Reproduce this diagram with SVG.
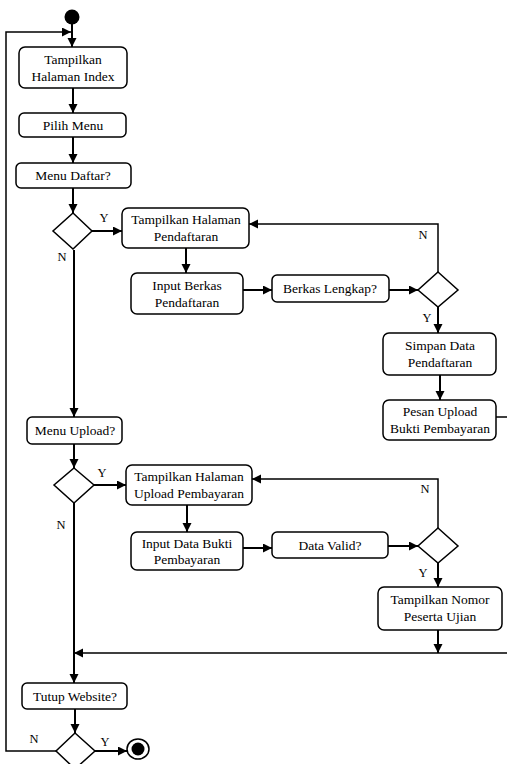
<svg xmlns="http://www.w3.org/2000/svg" width="507" height="764" viewBox="0 0 507 764">
  <style>
    .box { fill: #fff; stroke: #000; stroke-width: 1.5; }
    .dec { fill: #fff; stroke: #000; stroke-width: 1.5; }
    .t { font-size: 13.5px; fill: #000; text-anchor: middle; }
    .lbl { font-size: 12.5px; fill: #000; text-anchor: middle; }
    .flow { fill: none; stroke: #000; stroke-width: 2; marker-end: url(#arr); }
    .back { fill: none; stroke: #000; stroke-width: 1.5; marker-end: url(#arr); }
  </style>
  <defs>
    <marker id="arr" markerUnits="userSpaceOnUse" markerWidth="10" markerHeight="10" refX="9" refY="4.5" orient="auto">
      <path d="M0,0 L9,4.5 L0,9 z" fill="#000"/>
    </marker>
  </defs>
  <rect width="507" height="764" fill="#fff"/>

  <g id="connectors">
    <path class="flow" d="M72,24 V47"/>
    <path class="back" d="M56,751 H6 V32 H71"/>
    <path class="flow" d="M73,88 V113"/>
    <path class="flow" d="M73,137 V163"/>
    <path class="flow" d="M73,188 V213"/>
    <path class="flow" d="M92,231 H122"/>
    <path class="flow" d="M186,248 V273"/>
    <path class="flow" d="M243,290 H272"/>
    <path class="flow" d="M389,290 H418"/>
    <path class="back" d="M438,272 V224 H249"/>
    <path class="flow" d="M438,307 V333"/>
    <path class="flow" d="M440,375 V400"/>
    <path class="back" d="M496,417 H512 V653 H74"/>
    <path class="flow" d="M74,250 V417"/>
    <path class="flow" d="M74,444 V468"/>
    <path class="flow" d="M94,485 H126"/>
    <path class="flow" d="M187,505 V532"/>
    <path class="flow" d="M243,548 H272"/>
    <path class="flow" d="M388,546 H418"/>
    <path class="back" d="M438,528 V479 H252"/>
    <path class="flow" d="M438,563 V587"/>
    <path class="flow" d="M438,630 V653"/>
    <path class="flow" d="M74,503 V683"/>
    <path class="flow" d="M75,709 V733"/>
    <path class="flow" d="M95,751 H127"/>
  </g>

  <g font-family="'Liberation Serif', 'Times New Roman', 'DejaVu Serif', serif">
  <g id="start">
    <circle cx="72" cy="17" r="7.5" fill="#000"/>
  </g>

  <g id="tampil-index">
    <rect class="box" x="19" y="47" width="108" height="41" rx="6"/>
    <text class="t" x="73" y="64">Tampilkan</text>
    <text class="t" x="73" y="81">Halaman Index</text>
  </g>

  <g id="pilih-menu">
    <rect class="box" x="19" y="113" width="107" height="24" rx="5"/>
    <text class="t" x="73" y="130">Pilih Menu</text>
  </g>

  <g id="menu-daftar">
    <rect class="box" x="16" y="163" width="115" height="25" rx="5"/>
    <text class="t" x="73" y="180">Menu Daftar?</text>
  </g>

  <g id="dec-daftar">
    <polygon class="dec" points="73,213 92,231 73,249 53,231"/>
    <text class="lbl" x="104" y="222">Y</text>
    <text class="lbl" x="62" y="261">N</text>
  </g>

  <g id="tampil-pendaftaran">
    <rect class="box" x="122" y="208" width="127" height="40" rx="6"/>
    <text class="t" x="186" y="224">Tampilkan Halaman</text>
    <text class="t" x="186" y="241">Pendaftaran</text>
  </g>

  <g id="input-berkas">
    <rect class="box" x="131" y="273" width="112" height="41" rx="6"/>
    <text class="t" x="187" y="290">Input Berkas</text>
    <text class="t" x="187" y="307">Pendaftaran</text>
  </g>

  <g id="berkas-lengkap">
    <rect class="box" x="272" y="275" width="117" height="27" rx="5"/>
    <text class="t" x="330" y="293">Berkas Lengkap?</text>
  </g>

  <g id="dec-berkas">
    <polygon class="dec" points="438,272 458,290 438,307 418,290"/>
    <text class="lbl" x="423" y="239">N</text>
    <text class="lbl" x="427" y="322">Y</text>
  </g>

  <g id="simpan-data">
    <rect class="box" x="383" y="333" width="113" height="42" rx="6"/>
    <text class="t" x="440" y="350">Simpan Data</text>
    <text class="t" x="440" y="367">Pendaftaran</text>
  </g>

  <g id="pesan-upload">
    <rect class="box" x="383" y="400" width="113" height="40" rx="6"/>
    <text class="t" x="440" y="416">Pesan Upload</text>
    <text class="t" x="440" y="433">Bukti Pembayaran</text>
  </g>

  <g id="menu-upload">
    <rect class="box" x="27" y="417" width="95" height="27" rx="5"/>
    <text class="t" x="75" y="435">Menu Upload?</text>
  </g>

  <g id="dec-upload">
    <polygon class="dec" points="74,468 94,485 74,503 54,485"/>
    <text class="lbl" x="102" y="477">Y</text>
    <text class="lbl" x="61" y="529">N</text>
  </g>

  <g id="tampil-upload">
    <rect class="box" x="126" y="465" width="126" height="40" rx="6"/>
    <text class="t" x="189" y="481">Tampilkan Halaman</text>
    <text class="t" x="189" y="498">Upload Pembayaran</text>
  </g>

  <g id="input-bukti">
    <rect class="box" x="131" y="532" width="112" height="38" rx="6"/>
    <text class="t" x="187" y="548">Input Data Bukti</text>
    <text class="t" x="187" y="564">Pembayaran</text>
  </g>

  <g id="data-valid">
    <rect class="box" x="272" y="532" width="116" height="26" rx="5"/>
    <text class="t" x="330" y="550">Data Valid?</text>
  </g>

  <g id="dec-valid">
    <polygon class="dec" points="438,528 458,546 438,563 418,546"/>
    <text class="lbl" x="425" y="493">N</text>
    <text class="lbl" x="423" y="577">Y</text>
  </g>

  <g id="tampil-nomor">
    <rect class="box" x="378" y="587" width="124" height="43" rx="6"/>
    <text class="t" x="440" y="604">Tampilkan Nomor</text>
    <text class="t" x="440" y="621">Peserta Ujian</text>
  </g>

  <g id="tutup-website">
    <rect class="box" x="22" y="683" width="105" height="26" rx="5"/>
    <text class="t" x="75" y="701">Tutup Website?</text>
  </g>

  <g id="dec-tutup">
    <polygon class="dec" points="75,733 95,751 75,769 56,751"/>
    <text class="lbl" x="34" y="743">N</text>
    <text class="lbl" x="105" y="746">Y</text>
  </g>

  <g id="end">
    <ellipse cx="138" cy="749" rx="11" ry="10" fill="#fff" stroke="#000" stroke-width="1.5"/>
    <circle cx="138" cy="749" r="6.5" fill="#000"/>
  </g>
  </g>
</svg>
